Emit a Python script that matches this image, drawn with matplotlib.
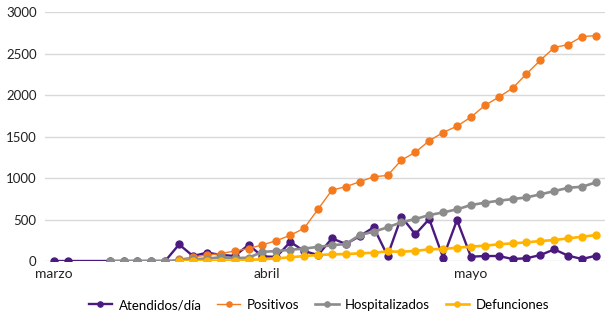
import numpy as np
import matplotlib
matplotlib.use("Agg")
import matplotlib.pyplot as plt

plt.rcParams['font.family'] = ['Lato', 'DejaVu Sans']

N = None
# one value per category position (40 positions), None = no data
atendidos = [0, 0, N, N, 0, 0, 0, 0, 0, 200, 60, 100, 75, 60, 195, 55, 50, 230, 120, 72,
             273, 205, 300, 406, 64, 534, 322, 506, 40, 494, 52, 60, 60, 24, 33, 72, 140, 64, 24, 64]
positivos = [N, N, N, N, N, N, N, N, N, 20, 50, 70, 90, 120, 150, 195, 245, 310, 395, 625,
             855, 896, 956, 1016, 1032, 1217, 1312, 1450, 1550, 1627, 1735, 1876, 1976, 2085, 2257, 2422, 2575, 2611, 2707, 2719]
hospitalizados = [N, N, N, N, 0, 0, 0, 0, 0, 10, 20, 30, 45, 35, 40, 110, 120, 135, 150, 170,
                  190, 205, 313, 353, 406, 468, 506, 554, 586, 623, 675, 703, 727, 747, 767, 804, 843, 883, 896, 948]
defunciones = [N, N, N, N, N, N, N, N, N, 0, 0, 3, 5, 6, 12, 22, 32, 44, 60, 72,
               80, 84, 92, 100, 115, 112, 122, 141, 145, 161, 173, 185, 201, 213, 225, 241, 253, 273, 293, 313]

month_labels = ['marzo', 'abril', 'mayo']
month_pos = [0, 15.3, 30]

series = [
    ('Atendidos/día', atendidos, '#4B1A7F', 1.7),
    ('Positivos', positivos, '#F47A1F', 1.0),
    ('Hospitalizados', hospitalizados, '#8C8C8C', 1.9),
    ('Defunciones', defunciones, '#FFB400', 1.9),
]

fig = plt.figure(figsize=(6.1, 3.23), dpi=100)
ax = fig.add_axes([45 / 610, 1 - 261 / 323, 560 / 610, (261 - 12.3) / 323])

x = np.arange(len(atendidos))
for name, vals, color, lw in series:
    y = np.array([np.nan if v is None else v for v in vals], dtype=float)
    m = ~np.isnan(y)
    ax.plot(x[m], y[m], color=color, lw=lw, marker='o', markersize=5, label=name)

ax.set_ylim(0, 3000)
ax.set_xlim(-0.65, 39.65)
ax.set_yticks(range(0, 3001, 500))
ax.set_xticks(month_pos)
ax.set_xticklabels(month_labels)
ax.grid(axis='y', color='#D9D9D9', lw=1)
ax.set_axisbelow(True)
for s in ax.spines.values():
    s.set_visible(False)
ax.tick_params(axis='y', length=0, pad=6, labelsize=9.5, labelcolor='#222222')
ax.tick_params(axis='x', length=0, pad=5, labelsize=10, labelcolor='#222222')

fig.legend(loc='center', bbox_to_anchor=(319 / 610, 1 - 305 / 323), ncol=4, frameon=False,
           fontsize=9.5, handlelength=1.75, handletextpad=0.5, columnspacing=1.2,
           markerscale=0.75)

fig.savefig('out.png', dpi=100)
